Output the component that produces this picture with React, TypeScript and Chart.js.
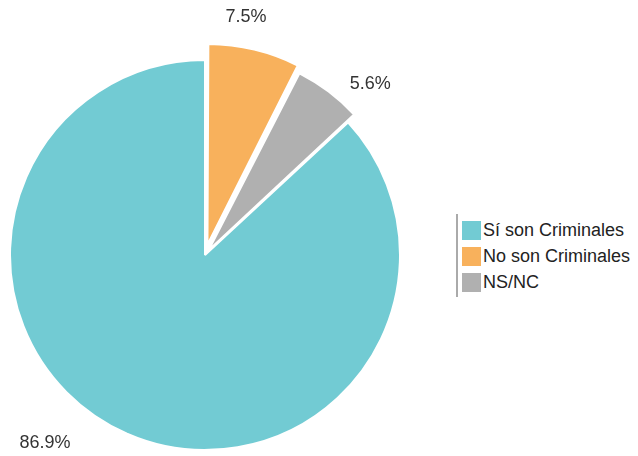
import React, { useEffect, useRef } from "react";
import { Chart, registerables } from "chart.js";

Chart.register(...registerables);

const categories = ["Sí son Criminales", "No son Criminales", "NS/NC"];
const values = [86.9, 7.5, 5.6];
const colors = ["#72CBD3", "#F8B15C", "#B0B0B0"];
// Chart.js draws arcs translated by offset / 4
const sliceOffsets = [0, 42, 24];
const labelTexts = values.map((v) => v.toFixed(1) + "%");

const FONT = '"Liberation Sans", Arial, Helvetica, sans-serif';

const labelPlugin = {
  id: "pctLabels",
  afterDatasetsDraw(chart: any, _args: any, opts: any) {
    const meta = chart.getDatasetMeta(0);
    const ctx = chart.ctx;
    ctx.save();
    ctx.font = `18px ${FONT}`;
    ctx.fillStyle = "#333333";
    ctx.textAlign = "center";
    ctx.textBaseline = "middle";
    meta.data.forEach((arc: any, i: number) => {
      const p = arc.getProps(["x", "y", "startAngle", "endAngle", "outerRadius"], true);
      const mid = (p.startAngle + p.endAngle) / 2 + ((opts.nudge[i] || 0) * Math.PI) / 180;
      const r = p.outerRadius + opts.dist[i];
      ctx.fillText(labelTexts[i], p.x + r * Math.cos(mid), p.y + r * Math.sin(mid));
    });
    ctx.restore();
  },
};

export default function App() {
  const ref = useRef<HTMLCanvasElement>(null);
  useEffect(() => {
    if (!ref.current) return;
    const total = values.reduce((a, b) => a + b, 0);
    const rotation = ((total - values[0]) / total) * 360;
    const chart = new Chart(ref.current, {
      type: "pie",
      data: {
        labels: categories,
        datasets: [
          {
            data: values,
            backgroundColor: colors,
            borderColor: "#ffffff",
            borderWidth: 2,
            offset: sliceOffsets,
            hoverOffset: 0,
          },
        ],
      },
      options: {
        responsive: false,
        animation: false,
        rotation,
        radius: 195,
        layout: { padding: { top: 54, bottom: 0, left: 0, right: 0 } },
        plugins: {
          legend: { display: false },
          tooltip: { enabled: false },
          pctLabels: { nudge: [16.8, -3.7, 6.9], dist: [52, 46, 43] },
        } as any,
      },
      plugins: [labelPlugin],
    });
    return () => chart.destroy();
  }, []);

  return (
    <div
      style={{
        position: "fixed",
        left: 0,
        top: 0,
        width: 638,
        height: 456,
        background: "#ffffff",
        fontFamily: FONT,
      }}
    >
      <canvas ref={ref} width={410} height={456} style={{ position: "absolute", left: 0, top: 0 }} />
      <div
        style={{
          position: "absolute",
          left: 456,
          top: 214,
          borderLeft: "2px solid #AAAAAA",
          paddingLeft: 4,
          paddingTop: 3,
          paddingBottom: 1,
        }}
      >
        {categories.map((c, i) => (
          <div
            key={c}
            style={{
              display: "flex",
              alignItems: "center",
              height: 26.3,
              fontSize: 18,
              color: "#222222",
              whiteSpace: "nowrap",
            }}
          >
            <span
              style={{
                display: "inline-block",
                width: 19,
                height: 19,
                background: colors[i],
                marginRight: 2,
                flex: "none",
              }}
            />
            <span>{c}</span>
          </div>
        ))}
      </div>
    </div>
  );
}
